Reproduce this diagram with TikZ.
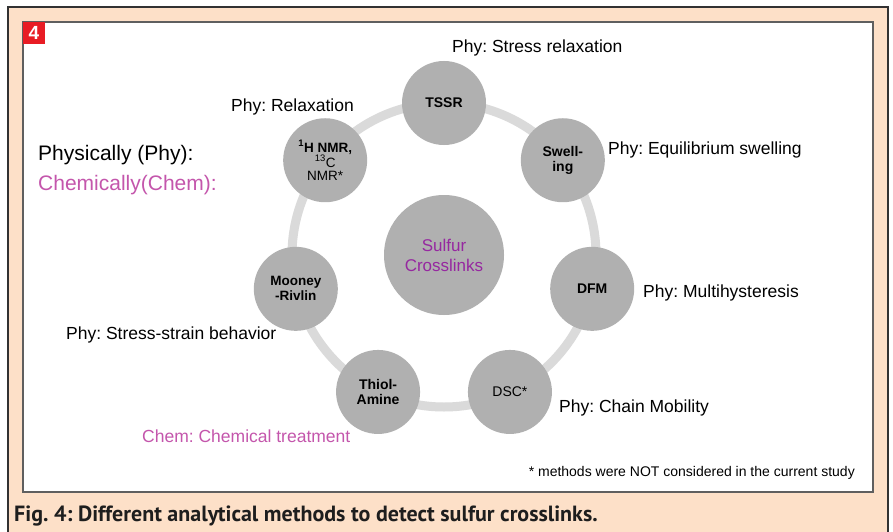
\documentclass[tikz,border=0pt]{standalone}
\usepackage{fontspec}
\setmainfont{Liberation Sans}
\newfontfamily\capfont{PT Sans}
\usetikzlibrary{calc}
\definecolor{peach}{RGB}{253,224,200}
\definecolor{framegray}{RGB}{50,50,50}
\definecolor{boxgray}{RGB}{95,95,95}
\definecolor{ringgray}{RGB}{218,218,218}
\definecolor{discgray}{RGB}{176,176,176}
\definecolor{chempink}{RGB}{196,86,172}
\definecolor{hubpurple}{RGB}{150,40,160}
\definecolor{badgered}{RGB}{232,28,36}
\definecolor{captext}{RGB}{30,30,30}

\begin{document}
\frenchspacing
\begin{tikzpicture}[x=1pt,y=-1pt,
  method/.style={circle,fill=discgray,minimum size=84pt,inner sep=0pt,align=center,
    font=\fontsize{14}{15}\selectfont\bfseries},
  hub/.style={circle,fill=discgray,minimum size=120pt,inner sep=0pt,align=center,
    text=hubpurple,font=\fontsize{17}{20}\selectfont},
  note/.style={anchor=west,inner sep=0pt,font=\fontsize{17.5}{20}\selectfont},
  legend/.style={anchor=west,inner sep=0pt,font=\fontsize{21}{24}\selectfont},
  ring/.style={draw=ringgray,line width=9pt}]
\useasboundingbox (0,0) rectangle (893,532);
\fill[white] (0,0) rectangle (893,532);

% outer peach frame and inner white panel
\filldraw[fill=peach,draw=framegray,line width=1.3pt] (8,7) rectangle (888,560);
\filldraw[fill=white,draw=boxgray,line width=1.3pt] (23,22) rectangle (873,492);

% figure number badge
\node[fill=badgered,text=white,minimum size=22pt,inner sep=0pt,
  font=\fontsize{19}{19}\selectfont\bfseries] (badge) at (34,33) {4};

% hub and surrounding ring
\coordinate (ctr) at (444,255);
\draw[ring] (ctr) circle (152);
\node[hub] (hubnode) at (ctr) {Sulfur\\Crosslinks};

% methods placed around the ring
\node[method] (tssr)   at ($(ctr)+(-90:152)$) {TSSR};
\node[method] (swell)  at ($(ctr)+(-38.57:152)$) {Swell-\\ing};
\node[method] (dfm)    at ($(ctr)+(12.86:152)$) {DFM};
\node[method,font=\fontsize{14}{15}\selectfont] (dsc) at ($(ctr)+(64.29:152)$) {DSC*};
\node[method] (thiol)  at ($(ctr)+(115.71:152)$) {Thiol-\\Amine};
\node[method,font=\fontsize{13.5}{15}\selectfont\bfseries] (mooney) at ($(ctr)+(167.14:152)$) {Mooney\\-Rivlin};
\node[method,font=\fontsize{13.5}{13}\selectfont] (nmr) at ($(ctr)+(-141.43:152)$)
  {\textbf{\textsuperscript{1}H NMR,}\\\textsuperscript{13}C\\NMR*};

% method annotations
\node[note] (lstress) at (452,48)  {Phy: Stress relaxation};
\node[note] (lrelax)  at (231,107) {Phy: Relaxation};
\node[note] (lequil)  at (608,150) {Phy: Equilibrium swelling};
\node[note] (lmulti)  at (643,293) {Phy: Multihysteresis};
\node[note] (lstrain) at (66,335)  {Phy: Stress-strain behavior};
\node[note] (lchain)  at (559,408) {Phy: Chain Mobility};
\node[note,text=chempink] (lchem) at (142,436) {Chem: Chemical treatment};

% legend
\node[legend] (lphy)  at (38,155) {Physically (Phy):};
\node[legend,text=chempink] (lchm) at (38,185) {Chemically(Chem):};

% footnote
\node[anchor=east,inner sep=0pt,font=\fontsize{14}{15}\selectfont] (foot) at (855,473)
  {* methods were NOT considered in the current study};

% caption
\node[anchor=base west,inner sep=0pt,text=captext,font=\fontsize{22}{24}\selectfont\capfont\bfseries] (cap) at (14,521)
  {Fig. 4: Different analytical methods to detect sulfur crosslinks.};
\end{tikzpicture}
\end{document}
